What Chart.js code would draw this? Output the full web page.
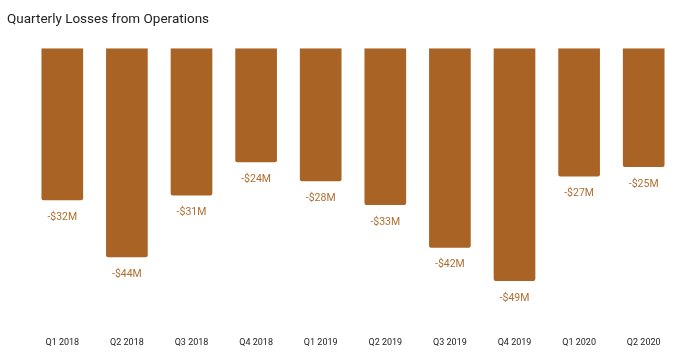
<!DOCTYPE html>
<html>
<head>
<meta charset="utf-8">
<script src="https://cdn.jsdelivr.net/npm/chart.js@4"></script>
<style>
html,body{margin:0;padding:0;background:#fff;}
#wrap{width:700px;height:362px;position:relative;}
</style>
</head>
<body>
<div id="wrap"><canvas id="c"></canvas></div>
<script>
const categories = ["Q1 2018","Q2 2018","Q3 2018","Q4 2018","Q1 2019","Q2 2019","Q3 2019","Q4 2019","Q1 2020","Q2 2020"];
const lossValues = [-32,-44,-31,-24,-28,-33,-42,-49,-27,-25];
const valueLabels = ["-$32M","-$44M","-$31M","-$24M","-$28M","-$33M","-$42M","-$49M","-$27M","-$25M"];

const labelPlugin = {
  id: 'barLabels',
  afterDatasetsDraw(chart) {
    const ctx = chart.ctx;
    const meta = chart.getDatasetMeta(0);
    ctx.save();
    ctx.font = '10.5px Roboto';
    ctx.fillStyle = '#B06E30';
    ctx.textAlign = 'center';
    ctx.textBaseline = 'middle';
    meta.data.forEach((bar, i) => {
      ctx.fillText(valueLabels[i], bar.x, bar.y + 17);
    });
    ctx.restore();
  }
};

new Chart(document.getElementById('c'), {
  type: 'bar',
  data: {
    labels: categories,
    datasets: [{
      data: lossValues,
      backgroundColor: '#A96425',
      borderRadius: 2,
      borderSkipped: 'start',
      categoryPercentage: 1,
      barPercentage: 0.645
    }]
  },
  options: {
    responsive: true,
    maintainAspectRatio: false,
    animation: false,
    layout: { padding: { left: 7, right: 24, top: 0, bottom: 0.5 } },
    plugins: {
      legend: { display: false },
      tooltip: { enabled: false },
      title: {
        display: true,
        text: 'Quarterly Losses from Operations',
        align: 'start',
        color: '#222222',
        font: { family: 'Roboto', size: 13.5, weight: 'normal' },
        padding: { top: 12, bottom: 20 },
        fullSize: true
      }
    },
    scales: {
      x: {
        grid: { display: false, drawTicks: false },
        border: { display: false },
        ticks: { color: '#222222', font: { family: 'Roboto', size: 9 }, padding: 13.5, maxRotation: 0 }
      },
      y: {
        display: true,
        min: -58,
        max: 0,
        grid: { display: false, drawTicks: false },
        border: { display: false },
        ticks: { display: false },
        afterFit: (s) => { s.width = 23; }
      }
    }
  },
  plugins: [labelPlugin]
});
</script>
</body>
</html>
